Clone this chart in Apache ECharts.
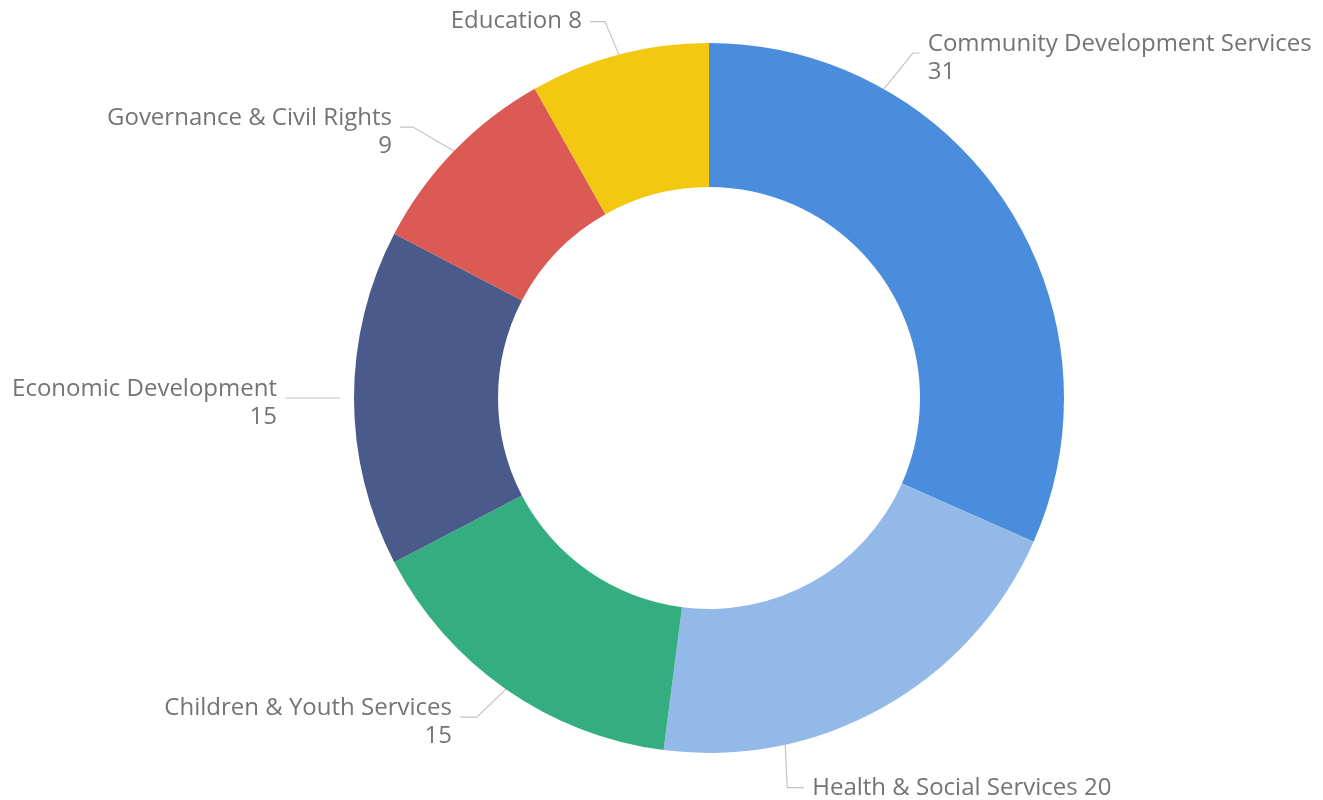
<!DOCTYPE html>
<html>
<head>
<meta charset="utf-8">
<script src="https://cdn.jsdelivr.net/npm/echarts@6/dist/echarts.min.js"></script>
<style>
html,body{margin:0;padding:0;background:#fff;}
#main{width:1323px;height:800px;}
</style>
</head>
<body>
<div id="main"></div>
<script>
// ---- data ----
var categories = ['Community Development Services','Health & Social Services','Children & Youth Services','Economic Development','Governance & Civil Rights','Education'];
var values = [31, 20, 15, 15, 9, 8];
var colors = ['#4A8DDD','#92B9E8','#34AE80','#4A5A8A','#DB5A53','#F2C811'];

// ---- label layout config (not data) ----
// anchorAngle: degrees clockwise from top (null => slice mid-angle), gap: radial offset,
// bend: [dx,dy] from anchor, len2: horizontal segment (signed), singleLine
var labelCfg = [
  {anchorAngle: 29.5, gap: 0, bend: [29, -36], len2: 7,   singleLine: false},
  {anchorAngle: 167.6, gap: 0, bend: [2, 43],  len2: 17,  singleLine: true},
  {anchorAngle: null, gap: 0, bend: [-29, 28], len2: -17, singleLine: false},
  {anchorAngle: null, gap: 14, bend: [0, 0],   len2: -55, singleLine: false},
  {anchorAngle: null, gap: 0, bend: [-41, -24], len2: -13, singleLine: false},
  {anchorAngle: null, gap: 0, bend: [-14, -33], len2: -15, singleLine: true}
];

var CX = 709, CY = 398, R_OUT = 355, R_IN = 211;
var total = values.reduce(function(a,b){return a+b;},0);
var midAngles = [];
(function(){var acc=0; for(var i=0;i<values.length;i++){midAngles.push((acc+values[i]/2)/total*360); acc+=values[i];}})();

var chart = echarts.init(document.getElementById('main'), null, {renderer:'canvas'});
var seriesData = categories.map(function(c,i){
  return {name:c, value:values[i], itemStyle:{color:colors[i]}};
});

var option = {
  backgroundColor:'#ffffff',
  animation:false,
  series:[{
    type:'pie',
    center:[CX, CY],
    radius:[R_IN, R_OUT],
    startAngle:90,
    clockwise:true,
    avoidLabelOverlap:false,
    data:seriesData,
    label:{
      show:true,
      position:'outside',
      color:'#747474',
      fontFamily:'Open Sans',
      fontWeight:500,
      fontSize:24,
      lineHeight:28,
      formatter:function(p){
        return labelCfg[p.dataIndex].singleLine ? p.name + ' ' + p.value : p.name + '\n' + p.value;
      }
    },
    labelLine:{show:true, length:20, length2:20, lineStyle:{color:'#c4c4c4', width:1.2}},
    labelLayout:function(params){
      var i = params.dataIndex, cfg = labelCfg[i];
      var ang = (cfg.anchorAngle == null ? midAngles[i] : cfg.anchorAngle) * Math.PI/180;
      var rr = R_OUT + cfg.gap;
      var ax = CX + rr*Math.sin(ang), ay = CY - rr*Math.cos(ang);
      var bx = ax + cfg.bend[0], by = ay + cfg.bend[1];
      var ex = bx + cfg.len2, ey = by;
      var right = cfg.len2 > 0;
      var tx = ex + (right ? 8 : -8);
      var ty = ey + (cfg.singleLine ? 0 : 5);
      return {
        x: tx, y: ty,
        align: right ? 'left' : 'right',
        verticalAlign: 'middle',
        labelLinePoints: [[ax,ay],[bx,by],[ex,ey]]
      };
    }
  }]
};
chart.setOption(option);
</script>
</body>
</html>
